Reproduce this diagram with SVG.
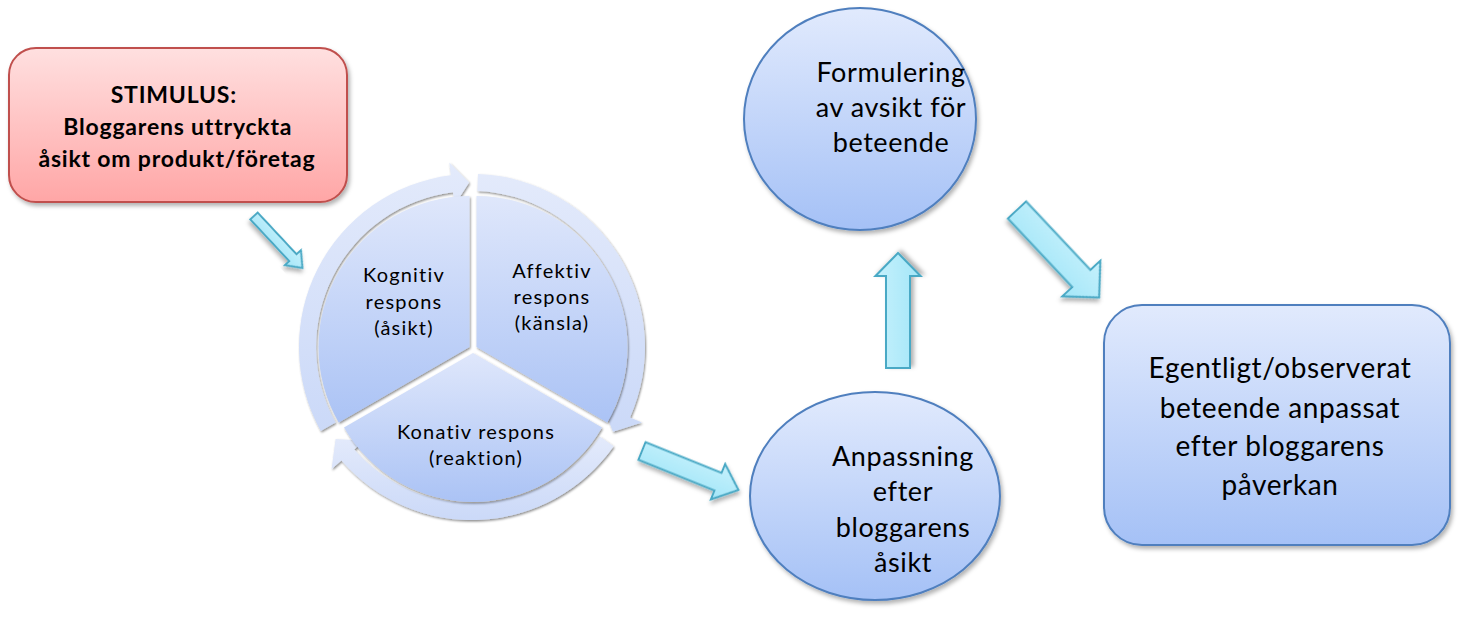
<svg xmlns="http://www.w3.org/2000/svg" width="1459" height="628" viewBox="0 0 1459 628">
<defs>
<linearGradient id="gBlue" x1="0" y1="0" x2="0" y2="1">
<stop offset="0" stop-color="#e1eafd"/>
<stop offset="1" stop-color="#a5c1f6"/>
</linearGradient>
<linearGradient id="gPie" x1="0" y1="0" x2="0" y2="1">
<stop offset="0" stop-color="#dfe7fb"/>
<stop offset="1" stop-color="#abc3f5"/>
</linearGradient>
<linearGradient id="gRing" x1="0" y1="0" x2="0" y2="1">
<stop offset="0" stop-color="#e3eafb"/>
<stop offset="1" stop-color="#cbd9f8"/>
</linearGradient>
<linearGradient id="gRed" x1="0" y1="0" x2="0" y2="1">
<stop offset="0" stop-color="#ffe0e0"/>
<stop offset="1" stop-color="#ffa6a6"/>
</linearGradient>
<linearGradient id="gCyan" x1="0" y1="0" x2="0" y2="1">
<stop offset="0" stop-color="#c6f1fc"/>
<stop offset="1" stop-color="#a3e6f8"/>
</linearGradient>
<filter id="sh" x="-20%" y="-20%" width="140%" height="140%">
<feDropShadow dx="2" dy="3" stdDeviation="2" flood-color="#000" flood-opacity="0.3"/>
</filter>
<filter id="shs" x="-20%" y="-20%" width="140%" height="140%">
<feDropShadow dx="1" dy="1.5" stdDeviation="1.2" flood-color="#000" flood-opacity="0.45"/>
</filter>
</defs>
<style>
.node{stroke:#4f7fbe;stroke-width:2;fill:url(#gBlue);filter:url(#sh)}
.big{font-family:Lato,"Liberation Sans",sans-serif;font-size:27px;fill:#000;text-anchor:middle;letter-spacing:0.6px}
.cyc{font-family:Lato,"Liberation Sans",sans-serif;font-size:20px;fill:#000;text-anchor:middle;letter-spacing:1.2px}
.arr{fill:url(#gCyan);stroke:#48a9c5;stroke-width:2;filter:url(#sh)}
.ring{fill:url(#gRing);filter:url(#shs)}
.pie{fill:url(#gPie);filter:url(#shs)}
</style>

<g id="stimulus">
<rect x="9" y="48" width="338" height="154" rx="27" fill="url(#gRed)" stroke="#c0504d" stroke-width="2" filter="url(#sh)"/>
<text font-family="Lato,'Liberation Sans',sans-serif" font-size="23" font-weight="bold" text-anchor="middle" letter-spacing="0.8">
<tspan x="177" y="103">STIMULUS:</tspan>
<tspan x="181" y="135">Bloggarens uttryckta</tspan>
<tspan x="177" y="167">åsikt om produkt/företag</tspan>
</text>
</g>

<g id="cycle">
<path class="ring" d="M 320.7 430.9 A 173 173 0 0 1 450.9 175.3 L 449.3 162.4 L 469.1 182.5 L 454.6 205.1 L 453.0 192.2 A 156 156 0 0 0 335.6 422.6 Z"/>
<path class="ring" d="M 478.0 174.1 A 173 173 0 0 1 630.0 417.4 L 641.9 422.6 L 613.0 431.7 L 602.6 405.2 L 614.5 410.4 A 156 156 0 0 0 477.4 191.1 Z"/>
<path class="ring" d="M 613.7 446.2 A 173 173 0 0 1 341.4 460.5 L 331.6 469.0 L 335.6 439.0 L 364.1 440.8 L 354.3 449.4 A 156 156 0 0 0 599.8 436.5 Z"/>
<g id="kognitiv">
<path class="pie" d="M 469.5 347 L 469.5 196 A 151 151 0 0 0 338.7 422.5 Z"/>
<text class="cyc"><tspan x="404" y="282">Kognitiv</tspan><tspan x="404" y="309">respons</tspan><tspan x="404" y="335">(åsikt)</tspan></text>
</g>
<g id="affektiv">
<path class="pie" d="M 476.5 347 L 476.5 196 A 151 151 0 0 1 607.3 422.5 Z"/>
<text class="cyc"><tspan x="552" y="278">Affektiv</tspan><tspan x="552" y="304">respons</tspan><tspan x="552" y="330">(känsla)</tspan></text>
</g>
<g id="konativ">
<path class="pie" d="M 473 353 L 344.0 427.5 A 149 149 0 0 0 602.0 427.5 Z"/>
<text class="cyc"><tspan x="476" y="439">Konativ respons</tspan><tspan x="476" y="465">(reaktion)</tspan></text>
</g>
</g>

<g id="formulering">
<ellipse class="node" cx="860" cy="119" rx="116" ry="111"/>
<text class="big"><tspan x="891" y="82">Formulering</tspan><tspan x="891" y="117">av avsikt för</tspan><tspan x="891" y="152">beteende</tspan></text>
</g>

<g id="anpassning">
<ellipse class="node" cx="875" cy="496" rx="125" ry="104"/>
<text class="big"><tspan x="903" y="466">Anpassning</tspan><tspan x="903" y="501">efter</tspan><tspan x="903" y="537">bloggarens</tspan><tspan x="903" y="572">åsikt</tspan></text>
</g>

<g id="beteende">
<rect class="node" x="1104" y="305" width="346" height="240" rx="38"/>
<text class="big" style="font-size:28px"><tspan x="1280" y="378">Egentligt/observerat</tspan><tspan x="1280" y="418">beteende anpassat</tspan><tspan x="1280" y="456">efter bloggarens</tspan><tspan x="1280" y="495">påverkan</tspan></text>
</g>

<g id="connectors">
<polygon class="arr" transform="translate(254,216) rotate(47)" points="0,-5 57,-5 57,-11 71,0 57,11 57,5 0,5"/>
<polygon class="arr" transform="translate(642,451) rotate(22)" points="0,-9.5 82,-9.5 82,-19 104,0 82,19 82,9.5 0,9.5"/>
<polygon class="arr" transform="translate(898,368) rotate(-90)" points="0,-12 92,-12 92,-22.5 115,0 92,22.5 92,12 0,12"/>
<polygon class="arr" transform="translate(1017,210) rotate(46.8)" points="0,-12.5 94,-12.5 94,-26 120,0 94,26 94,12.5 0,12.5"/>
</g>
</svg>
